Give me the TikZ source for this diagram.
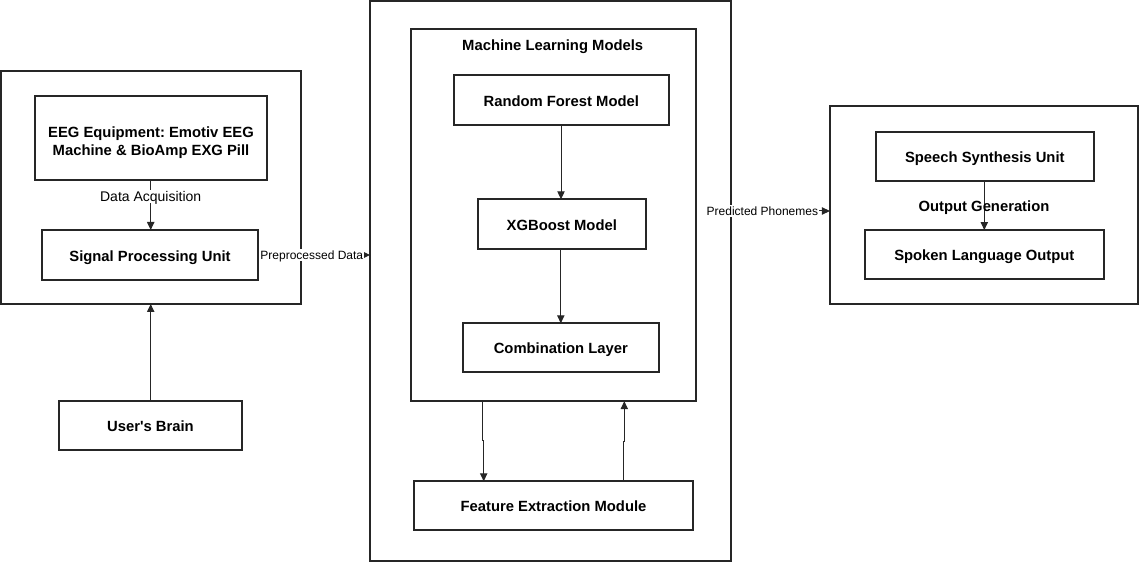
\documentclass[tikz,border=0pt]{standalone}
\usepackage{fontspec}
\setmainfont{Liberation Sans}
\usetikzlibrary{arrows.meta,calc}
\frenchspacing
\begin{document}
\begin{tikzpicture}[x=0.75pt,y=-0.75pt,
  sz/.style 2 args={minimum width={(#1)*0.75pt},minimum height={(#2)*0.75pt}},
  frame/.style={draw=black!85,line width=1.5pt,inner sep=0pt,outer sep=0pt,rectangle},
  bfont/.style={font=\fontsize{11.1}{13.3}\selectfont\bfseries},
  box/.style={frame,bfont,text height=9.1pt,text depth=0pt},
  arr/.style={draw=black!85,line width=0.75pt,-{Triangle[length=6pt,width=5.5pt]}},
  lbl/.style={fill=white,inner sep=1pt,font=\fontsize{9}{10}\selectfont,text height=6.9pt,text depth=0pt},
  lblb/.style={inner sep=1pt,bfont,text height=8.8pt,text depth=0pt}
]
\useasboundingbox (0,0) rectangle (1140,563);
% outer containers
\node[frame,sz={300}{233}] (left) at (151,187.5) {};
\node[frame,sz={360.5}{559.5}] (mid) at (550.3,281.2) {};
\node[frame,sz={308.5}{198}] (right) at (984.2,205) {};
\node[frame,sz={284.5}{372}] (ml) at (553.3,215.2) {};
\node[lblb] (mltitle) at (552.7,45) {Machine Learning Models};
% left boxes
\node[frame,sz={232}{84},label={[bfont,align=center,yshift=-3.5pt]center:EEG Equipment: Emotiv EEG\\Machine \& BioAmp EXG Pill}] (eeg) at (151,138) {};
\node[box,sz={216}{50}] (sp) at (150,255) {Signal Processing Unit};
\node[box,sz={183}{49}] (brain) at (150.5,425.5) {User\textquotesingle s Brain};
% middle boxes
\node[box,sz={214.7}{49.4}] (rf) at (561.3,100) {Random Forest Model};
\node[box,sz={168.3}{49.4}] (xgb) at (561.8,224) {XGBoost Model};
\node[box,sz={195.7}{49}] (comb) at (560.8,347.8) {Combination Layer};
\node[box,sz={279.7}{49}] (fe) at (553.5,505.8) {Feature Extraction Module};
% right boxes
\node[box,sz={218.3}{49}] (speech) at (984.8,156.2) {Speech Synthesis Unit};
\node[box,sz={239.3}{49.3}] (spoken) at (984.3,254.7) {Spoken Language Output};
% helper coordinates
\coordinate (cd1) at (482.3,440);
\coordinate (cd2) at (483.7,440);
\coordinate (cu1) at (623.3,441.7);
\coordinate (cu2) at (624.3,441.7);
\coordinate (ypp) at (0,211);
\coordinate (xa) at (150.7,0);
% connectors
\draw[arr] (eeg.south -| xa) -- node[lbl,font=\fontsize{10.5}{12}\selectfont,text height=8pt,pos=0.33]{Data Acquisition} (sp.north -| xa);
\draw[arr] (brain.north -| xa) -- (left.south -| xa);
\draw[arr] (sp.east) -- node[lbl,pos=0.48]{Preprocessed Data} (sp.east -| mid.west);
\draw[arr] (rf.south -| 561,0) -- (xgb.north -| 561,0);
\draw[arr] (xgb.south -| 560.8,0) -- (comb.north -| 560.8,0);
\draw[arr] (ml.south -| cd1) -- (cd1) -- (cd2) -- (fe.north -| cd2);
\draw[arr] (fe.north -| cu1) -- (cu1) -- (cu2) -- (ml.south -| cu2);
\draw[arr] (mid.east |- ypp) -- node[lbl,pos=0.32]{Predicted Phonemes} (right.west |- ypp);
\draw[arr] (speech.south -| 984.3,0) -- (spoken.north -| 984.3,0);
\node[lblb] (og) at (984,206) {Output Generation};
\end{tikzpicture}
\end{document}
